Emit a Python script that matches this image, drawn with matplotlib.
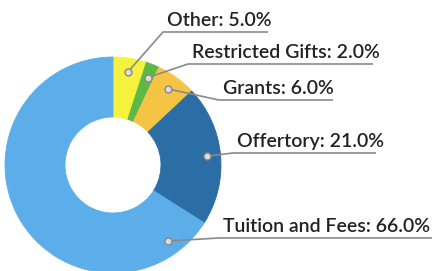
import numpy as np
import matplotlib.pyplot as plt

# slices, clockwise from 12 o'clock
labels = ['Other', 'Restricted Gifts', 'Grants', 'Offertory', 'Tuition and Fees']
shares = [5.0, 2.0, 6.0, 21.0, 66.0]
colors = ['#f4f23c', '#5cb847', '#f6c444', '#2b6ea6', '#5caeea']

W, H = 441, 271
fig = plt.figure(figsize=(W / 100, H / 100), dpi=100)
ax = fig.add_axes([0, 0, 1, 1])

cx, cy, R = 113, H - 165, 108
wedges, _ = ax.pie(shares, colors=colors, startangle=90, counterclock=False,
                   center=(cx, cy), radius=R, frame=True,
                   wedgeprops=dict(width=60, linewidth=0.6))
for w in wedges:
    w.set_edgecolor(w.get_facecolor())  # no white seams
ax.set_xlim(0, W)
ax.set_ylim(0, H)
ax.set_aspect('equal')
ax.axis('off')

# label layout (pixel coords from top): text x, text centre y, underline y, underline end
lay = [
    (167, 20, 32, 268),
    (192, 52, 64, 373),
    (223, 88, 100, 333),
    (237, 141, 153, 376),
    (223, 226, 238, 432),
]

cum = 0
for i, (lab, v) in enumerate(zip(labels, shares)):
    mid = 90 - (cum + v / 2) * 3.6
    cum += v
    if v > 50:
        mid = -54  # big slice: anchor near the label
    r = 0.87 * R
    dx = cx + r * np.cos(np.radians(mid))
    dy = cy + r * np.sin(np.radians(mid))
    tx, ty, uy, ux = lay[i]
    ax.text(tx, H - ty, f'{lab}: {v:.1f}%', fontsize=14, color='#222222',
            va='center', ha='left', family='Lato', weight='semibold')
    ax.plot([dx, tx - 4, ux], [dy, H - uy, H - uy], color='#8a8a8a', lw=1.2,
            solid_capstyle='butt')
    ax.plot(dx, dy, 'o', ms=5, mfc='#dddddd', mec='#888888', mew=1)

fig.savefig('out.png', dpi=100)
